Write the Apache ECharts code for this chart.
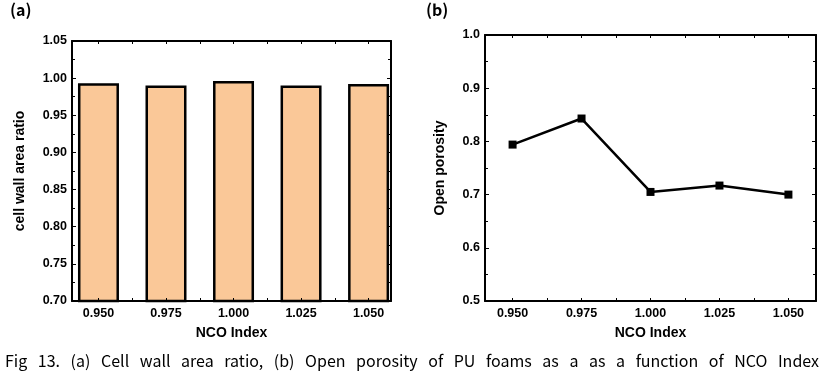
<!DOCTYPE html>
<html><head><meta charset="utf-8">
<script src="https://cdn.jsdelivr.net/npm/echarts@6/dist/echarts.min.js"></script>
<style>html,body{margin:0;padding:0;background:#fff}#c{width:825px;height:381px}</style>
</head><body><div id="c"></div>
<script>
var nco = [0.950, 0.975, 1.000, 1.025, 1.050];
var cellWallRatio = [0.993, 0.990, 0.996, 0.990, 0.992];
var openPorosity = [0.794, 0.843, 0.705, 0.717, 0.700];
var minorX = [0.95, 0.9625, 0.975, 0.9875, 1.0, 1.0125, 1.025, 1.0375, 1.05];
var caption = "Fig 13. (a) Cell wall area ratio, (b) Open porosity of PU foams as a as a function of NCO Index";

var chart = echarts.init(document.getElementById('c'));
var F = "'Liberation Sans', Arial, sans-serif";
var K = "'Noto Sans CJK KR', 'Noto Sans', sans-serif";
var lab = {fontFamily: F, fontWeight: 'bold', fontSize: 12.5, color: '#000'};
var nameSt = {fontFamily: F, fontWeight: 'bold', fontSize: 14, color: '#000'};
var lineSt = {lineStyle: {color: '#000', width: 2}};

function xAx(grid, min, max, pos, show) {
  return {
    type: 'value', gridIndex: grid, min: min, max: max, position: pos, z: 5,
    name: show ? 'NCO Index' : '', nameLocation: 'middle', nameGap: 25, nameTextStyle: nameSt,
    axisLine: lineSt, splitLine: {show: false},
    axisTick: {show: true, inside: true, length: 3, customValues: minorX, lineStyle: {color: '#000', width: 1}},
    axisLabel: Object.assign({show: show, customValues: nco, formatter: function (v) { return v.toFixed(3); }, margin: 6}, lab)
  };
}
function yAx(grid, min, max, itv, pos, show, name, gap, dec) {
  return {
    type: 'value', gridIndex: grid, min: min, max: max, interval: itv, position: pos, z: 5,
    name: name, nameLocation: 'middle', nameGap: gap, nameTextStyle: nameSt,
    axisLine: lineSt, splitLine: {show: false},
    axisTick: {show: true, inside: true, length: 4, lineStyle: {color: '#000', width: 1}},
    minorTick: {show: true, splitNumber: 2, length: 3, lineStyle: {color: '#000', width: 1}},
    axisLabel: Object.assign({show: show, margin: 5, formatter: function (v) { return v.toFixed(dec); }}, lab)
  };
}

// justified caption: measure words, spread gaps over the line width
var ctx = document.createElement('canvas').getContext('2d');
ctx.font = '16px ' + K;
var words = caption.split(' ');
var wsum = 0, ww = words.map(function (w) { var m = ctx.measureText(w).width; wsum += m; return m; });
var x0 = 5, x1 = 819;
var gap = (x1 - x0 - wsum) / (words.length - 1);
var capGraphics = [], cx = x0;
words.forEach(function (w, i) {
  capGraphics.push({type: 'text', x: cx, y: 353, style: {text: w, fontFamily: K, fontSize: 16, fill: '#000'}});
  cx += ww[i] + gap;
});

chart.setOption({
  animation: false,
  grid: [
    {left: 72, right: 434, top: 41, bottom: 80},
    {left: 485, right: 9, top: 35, bottom: 80}
  ],
  xAxis: [
    xAx(0, 0.9402, 1.0583, 'bottom', true),
    xAx(0, 0.9402, 1.0583, 'top', false),
    xAx(1, 0.94, 1.06, 'bottom', true),
    xAx(1, 0.94, 1.06, 'top', false)
  ],
  yAxis: [
    yAx(0, 0.70, 1.05, 0.05, 'left', true, 'cell wall area ratio', 45, 2),
    yAx(0, 0.70, 1.05, 0.05, 'right', false, '', 0, 2),
    yAx(1, 0.5, 1.0, 0.1, 'left', true, 'Open porosity', 38, 1),
    yAx(1, 0.5, 1.0, 0.1, 'right', false, '', 0, 1)
  ],
  series: [
    {
      type: 'bar', xAxisIndex: 0, yAxisIndex: 0, barWidth: 41,
      data: nco.map(function (x, i) { return [x, cellWallRatio[i]]; }),
      itemStyle: {color: '#FAC898', borderColor: '#000', borderWidth: 2.5}
    },
    {
      type: 'line', xAxisIndex: 2, yAxisIndex: 2, symbol: 'rect', symbolSize: 8,
      data: nco.map(function (x, i) { return [x, openPorosity[i]]; }),
      lineStyle: {color: '#000', width: 2.5}, itemStyle: {color: '#000'}
    }
  ],
  graphic: [
    {type: 'text', left: 10, top: 2, style: {text: '(a)', fontFamily: K, fontWeight: 'bold', fontSize: 16, fill: '#000'}},
    {type: 'text', left: 426, top: 2, style: {text: '(b)', fontFamily: K, fontWeight: 'bold', fontSize: 16, fill: '#000'}}
  ].concat(capGraphics)
});
</script></body></html>
